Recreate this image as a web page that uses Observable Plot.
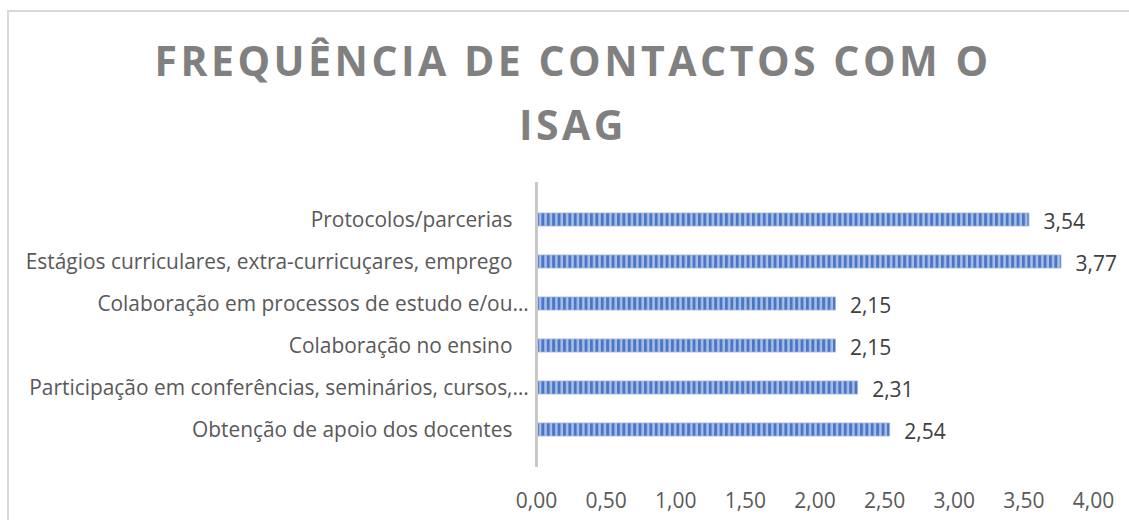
<!DOCTYPE html>
<html>
<head>
<meta charset="utf-8">
<script src="https://cdn.jsdelivr.net/npm/d3@7"></script>
<script src="https://cdn.jsdelivr.net/npm/@observablehq/plot@0.6"></script>
<style>
  html, body { margin: 0; padding: 0; background: #fff; }
  #wrap { position: relative; width: 1129px; height: 520px; overflow: hidden; background: #fff; }
  #frame { position: absolute; left: 7px; top: 10px; width: 1200px; height: 600px;
           border-left: 2px solid #d9d9d9; border-top: 2px solid #d9d9d9; box-sizing: border-box; }
  #title { position: absolute; left: 73px; width: 1000px; top: 28px; text-align: center;
           font-family: "Open Sans", sans-serif; font-weight: 700; font-size: 41px;
           letter-spacing: 3.5px; color: #808080; line-height: 64px; }
  #chart { position: absolute; left: 0; top: 0; }
</style>
</head>
<body>
<div id="wrap">
  <div id="frame"></div>
  <div id="title">FREQUÊNCIA DE CONTACTOS COM O<br>ISAG</div>
  <div id="chart"></div>
</div>
<script>
const categories = [
  "Protocolos/parcerias",
  "Estágios curriculares, extra-curricuçares, emprego",
  "Colaboração em processos de estudo e/ou…",
  "Colaboração no ensino",
  "Participação em conferências, seminários, cursos,…",
  "Obtenção de apoio dos docentes"
];
const values = [3.54, 3.77, 2.15, 2.15, 2.31, 2.54];
const xTicks = [0, 0.5, 1, 1.5, 2, 2.5, 3, 3.5, 4];

const data = categories.map((c, i) => ({category: c, value: values[i]}));
const fmt = d => d.toFixed(2).replace(".", ",");

const font = "'Open Sans', sans-serif";

const svg = Plot.plot({
  width: 1129,
  height: 520,
  marginLeft: 536,
  marginRight: 36,
  marginTop: 182,
  marginBottom: 53,
  style: {fontFamily: font, fontSize: "20px", color: "#595959", background: "transparent", overflow: "visible"},
  x: {domain: [0, 4], label: null},
  y: {domain: categories, padding: 0.68, label: null},
  marks: [
    Plot.barX(data, {x: "value", y: "category", fill: "url(#stripes)", stroke: "#9db2e0", strokeWidth: 0.8}),
    Plot.ruleX([0], {stroke: "#c8c8c8", strokeWidth: 3}),
    Plot.text(data, {x: "value", y: "category", text: d => fmt(d.value), textAnchor: "start",
                     dx: 14, dy: 2, fill: "#404040", fontSize: 21}),
    Plot.axisX({ticks: xTicks, tickSize: 0, tickPadding: 26, tickFormat: fmt, fill: "#595959", fontSize: 21, label: null}),
    Plot.axisY({tickSize: 0, tickPadding: 24, tickFormat: d => d.replace("…", ""), fill: "#595959", fontSize: 20.9, label: null}),
    Plot.text(categories.filter(d => d.endsWith("…")), {x: 0, y: d => d, text: () => "…",
                     textAnchor: "start", dx: -24, fill: "#595959", fontSize: 20.9})
  ]
});

const ns = "http://www.w3.org/2000/svg";
const defs = document.createElementNS(ns, "defs");
defs.innerHTML = `<pattern id="stripes" patternUnits="userSpaceOnUse" x="536" y="0" width="5.4" height="10">
  <rect x="0" y="0" width="5.4" height="10" fill="#a9bde6"></rect>
  <rect x="0" y="0" width="2.9" height="10" fill="#4a76c6"></rect>
</pattern>`;
svg.insertBefore(defs, svg.firstChild);
document.getElementById("chart").appendChild(svg);
</script>
</body>
</html>
